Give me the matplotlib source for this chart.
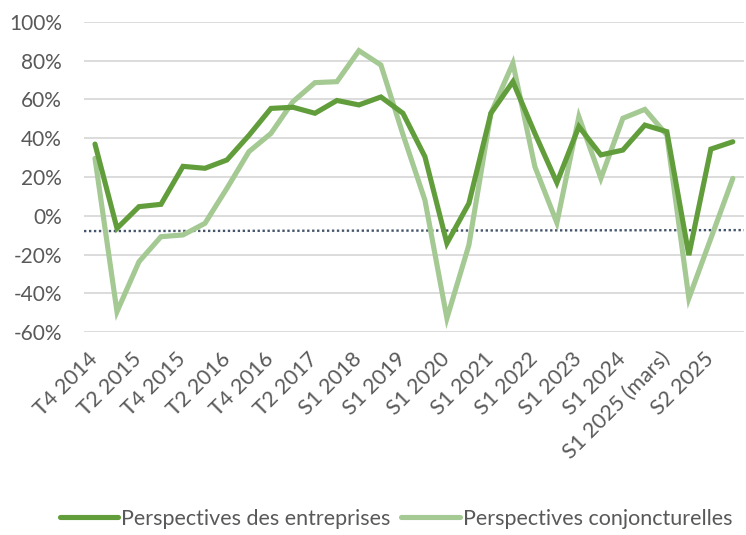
import matplotlib
matplotlib.use("Agg")
import matplotlib.pyplot as plt
from matplotlib.ticker import FuncFormatter

categories = ["T4 2014", "T1 2015", "T2 2015", "T3 2015", "T4 2015", "T1 2016",
              "T2 2016", "T3 2016", "T4 2016", "T1 2017", "T2 2017", "S2 2017",
              "S1 2018", "S2 2018", "S1 2019", "S2 2019", "S1 2020", "S2 2020",
              "S1 2021", "S2 2021", "S1 2022", "S2 2022", "S1 2023", "S2 2023",
              "S1 2024", "S2 2024", "S1 2025 (mars)", "S1 2025 (juin)", "S2 2025",
              "S1 2026"]

entreprises = [37, -6.5, 4.7, 5.9, 25.5, 24.5, 28.8, 41.5, 55.4, 56, 52.9, 59.5,
               57.2, 61.3, 52.9, 30.5, -14.2, 6.4, 52.9, 69.2, 42.5, 17.1, 46,
               31.4, 33.9, 46.8, 43.4, -20.3, 34.4, 38.2]

conjoncturelles = [29.6, -49.5, -23.7, -10.8, -9.9, -3.9, 14.2, 33.1, 42.5, 58.9,
                   68.7, 69.2, 85.2, 77.8, 42, 8.1, -52.9, -15.1, 52.9, 78.7, 25.3,
                   -3.6, 51.1, 19.3, 50.3, 54.9, 41.7, -42.6, -11.7, 19.3]

reference_line = [-7.9, -7.4]  # start / end of dotted line

y_ticks = [-60, -40, -20, 0, 20, 40, 60, 80, 100]

plt.rcParams['font.family'] = ['Lato', 'DejaVu Sans']

fig = plt.figure(figsize=(7.46, 5.35), dpi=100)
ax = fig.add_axes([0.1126, 0.3794, 0.8845, 0.5795])

x = list(range(len(categories)))
ax.plot(x, entreprises, color="#629D3C", lw=3.7, solid_joinstyle="miter",
        solid_capstyle="round", label="Perspectives des entreprises", zorder=4)
ax.plot(x, conjoncturelles, color="#A4C993", lw=3.7, solid_joinstyle="miter",
        solid_capstyle="round", label="Perspectives conjoncturelles", zorder=3)

ax.plot([-0.5, len(categories) - 0.5], reference_line, color="#44546A", lw=1.7,
        linestyle=(0, (1, 1.1)), zorder=2)

ax.set_xlim(-0.5, len(categories) - 0.5)
ax.set_ylim(-60, 100)
ax.set_yticks(y_ticks)
ax.yaxis.set_major_formatter(FuncFormatter(lambda v, p: f"{int(v)}%"))
ax.grid(axis="y", color="#D9D9D9", lw=1.3, zorder=0)
ax.set_axisbelow(True)

ax.set_xticks(x[::2])
ax.set_xticklabels(categories[::2], rotation=45, ha="right", va="center",
                   rotation_mode="anchor")

for s in ax.spines.values():
    s.set_visible(False)
ax.tick_params(axis="y", length=0, colors="#595959", labelsize=15, pad=16)
ax.tick_params(axis="x", length=0, colors="#595959", labelsize=15.5, pad=17)

leg = fig.legend(loc="lower center", bbox_to_anchor=(0.531, -0.025), ncol=2,
                 frameon=False, fontsize=15.5, handlelength=2.7, handletextpad=0.15,
                 columnspacing=0.5)
for t in leg.get_texts():
    t.set_color("#595959")

fig.savefig("out.png", dpi=100)
